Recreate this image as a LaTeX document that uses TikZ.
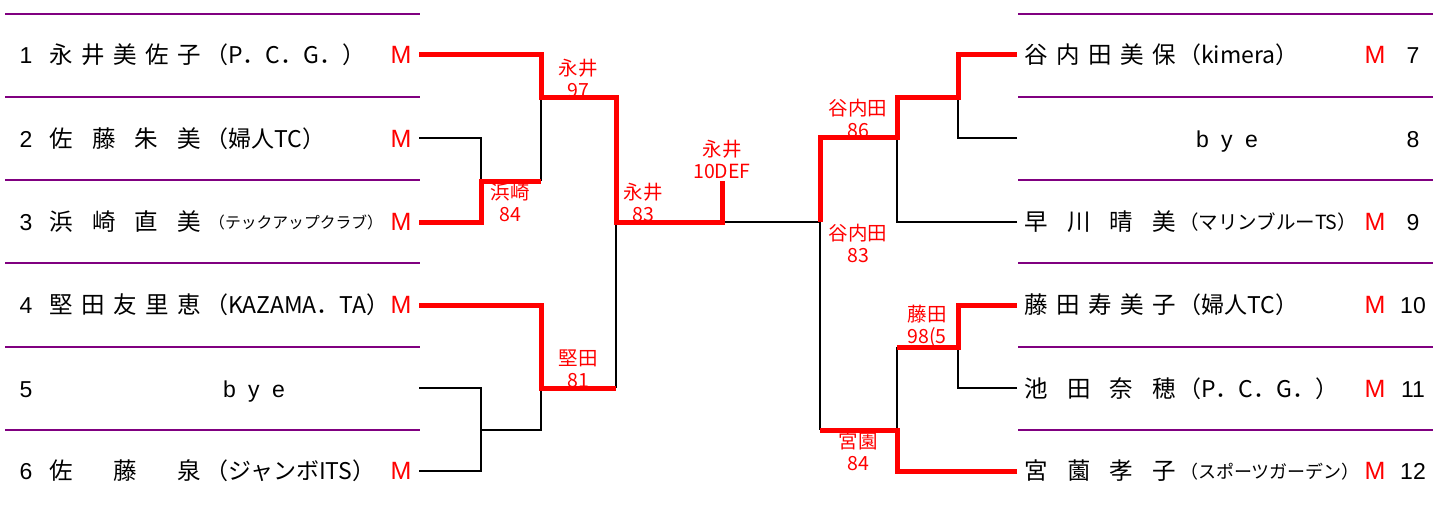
\documentclass[tikz,border=0pt]{standalone}
\usepackage{fontspec}
\setmainfont{Noto Sans CJK JP}
\newfontfamily\latf{Liberation Sans}
\definecolor{purp}{RGB}{128,0,128}
\newcommand\distname[1]{\makebox[152pt][s]{#1}}
\begin{document}
\begin{tikzpicture}[x=1pt,y=-1pt,
  purpline/.style={draw=purp,line width=2.7pt},
  blk/.style={draw=black,line width=2.4pt},
  rd/.style={draw=red,line width=5pt,line join=miter},
  num/.style={font=\latf\fontsize{23}{23}\selectfont,anchor=base,inner sep=0pt},
  mk/.style={font=\latf\fontsize{25}{25}\selectfont,anchor=base,inner sep=0pt,text=red},
  nm/.style={font=\fontsize{23.5}{23.5}\selectfont,anchor=base west,inner sep=0pt},
  aff/.style={font=\fontsize{23}{23}\selectfont,anchor=base west,inner sep=0pt},
  affs/.style={font=\fontsize{#1}{#1}\selectfont,anchor=base west,inner sep=0pt},
  byetxt/.style={font=\latf\fontsize{23}{23}\selectfont,anchor=base,inner sep=0pt},
  lbl/.style={text=red,font=\fontsize{19.5}{22}\selectfont,align=center,inner sep=0pt}]
\useasboundingbox (0,0) rectangle (1445,508);
\fill[white] (0,0) rectangle (1445,508);
% purple separators
\foreach \yy in {14,97,180,263,347,430}{
  \draw[purpline] (5,\yy) -- (420,\yy);
  \draw[purpline] (1018,\yy) -- (1433,\yy);
}
% left entries
\node[num] (n1) at (26,63.5) {1};
\node[num] (n2) at (26,147.5) {2};
\node[num] (n3) at (26,230.5) {3};
\node[num] (n4) at (26,313.5) {4};
\node[num] (n5) at (26,397) {5};
\node[num] (n6) at (26,479.5) {6};
\node[nm] (p1) at (49,63.5) {\distname{永\hfill 井\hfill 美\hfill 佐\hfill 子}};
\node[nm] (p2) at (49,147.5) {\distname{佐\hfill 藤\hfill 朱\hfill 美}};
\node[nm] (p3) at (49,230.5) {\distname{浜\hfill 崎\hfill 直\hfill 美}};
\node[nm] (p4) at (49,313.5) {\distname{堅\hfill 田\hfill 友\hfill 里\hfill 恵}};
\node[byetxt] (p5) at (254,397) {\makebox[62pt][s]{b\hfill y\hfill e}};
\node[nm] (p6) at (49,479.5) {\distname{佐\hfill 藤\hfill 泉}};
\node[aff] (c1) at (205,63.5) {（P．C．G．）};
\node[aff] (c2) at (205,147.5) {（婦人TC）};
\node[affs=15.8] (c3) at (209,228.5) {（テックアップクラブ）};
\node[aff] (c4) at (205,313.5) {（KAZAMA．TA）};
\node[aff] (c6) at (205,479.5) {（ジャンボITS）};
\node[mk] (m1) at (401,63.5) {M};
\node[mk] (m2) at (401,147.5) {M};
\node[mk] (m3) at (401,230.5) {M};
\node[mk] (m4) at (401,313.5) {M};
\node[mk] (m6) at (401,479.5) {M};
% right entries
\node[nm] (p7) at (1024,63.5) {\distname{谷\hfill 内\hfill 田\hfill 美\hfill 保}};
\node[byetxt] (p8) at (1227,147.5) {\makebox[62pt][s]{b\hfill y\hfill e}};
\node[nm] (p9) at (1024,230.5) {\distname{早\hfill 川\hfill 晴\hfill 美}};
\node[nm] (p10) at (1024,313.5) {\distname{藤\hfill 田\hfill 寿\hfill 美\hfill 子}};
\node[nm] (p11) at (1024,397) {\distname{池\hfill 田\hfill 奈\hfill 穂}};
\node[nm] (p12) at (1024,479.5) {\distname{宮\hfill 薗\hfill 孝\hfill 子}};
\node[aff] (c7) at (1178,63.5) {（kimera）};
\node[affs=19.5] (c9) at (1179,229.5) {（マリンブルーTS）};
\node[aff] (c10) at (1178,313.5) {（婦人TC）};
\node[aff] (c11) at (1178,397) {（P．C．G．）};
\node[affs=18] (c12) at (1180,478.5) {（スポーツガーデン）};
\node[mk] (m7) at (1375,63.5) {M};
\node[mk] (m9) at (1375,230.5) {M};
\node[mk] (m10) at (1375,313.5) {M};
\node[mk] (m11) at (1375,397) {M};
\node[mk] (m12) at (1375,479.5) {M};
\node[num] (n7) at (1413,63.5) {7};
\node[num] (n8) at (1413,147.5) {8};
\node[num] (n9) at (1413,230.5) {9};
\node[num] (n10) at (1413,313.5) {10};
\node[num] (n11) at (1413,397) {11};
\node[num] (n12) at (1413,479.5) {12};
% score labels
\node[lbl] (s1) at (510,202) {浜崎\\84};
\node[lbl] (s2) at (578,78) {永井\\97};
\node[lbl] (s3) at (643,202) {永井\\83};
\node[lbl] (s4) at (578,369) {堅田\\81};
\node[lbl] (s5) at (722,159) {永井\\10DEF};
\node[lbl] (s6) at (858,118) {谷内田\\86};
\node[lbl] (s7) at (858,243) {谷内田\\83};
\node[lbl] (s8) at (927,326) {藤田\\98(5};
\node[lbl] (s9) at (858,451) {宮園\\84};
% bracket coordinates
\coordinate (L1) at (419,55);
\coordinate (L2) at (419,138);
\coordinate (L3) at (419,222);
\coordinate (L4) at (419,305);
\coordinate (L5) at (419,388);
\coordinate (L6) at (419,471);
\coordinate (R7) at (1017,55);
\coordinate (R8) at (1017,138);
\coordinate (R9) at (1017,222);
\coordinate (R10) at (1017,305);
\coordinate (R11) at (1017,388);
\coordinate (R12) at (1017,471);
\coordinate (a1) at (481,181);
\coordinate (a2) at (541,98);
\coordinate (a3) at (481,430);
\coordinate (a4) at (541,388);
\coordinate (a5) at (616,222);
\coordinate (F) at (722,222);
\coordinate (Ft) at (722,181);
\coordinate (b1) at (958,98);
\coordinate (b2) at (897,138);
\coordinate (b3) at (958,347);
\coordinate (b4) at (897,430);
\coordinate (b5) at (820,222);
% black lines
\draw[blk] (L2) -| (a1);
\draw[blk] (a2) -- (a1 -| a2);
\draw[blk] (L5) -| (a3);
\draw[blk] (L6) -| (a3);
\draw[blk] (a3) -| (a4);
\draw[blk] (a5) -- (a4 -| a5);
\draw[blk] (F) -- (b5);
\draw[blk] (R8) -| (b1);
\draw[blk] (R9) -| (b2);
\draw[blk] (R11) -| (b3);
\draw[blk] (b4) -- (b3 -| b4);
\draw[blk] (b5) -- (b4 -| b5);
% red lines
\draw[rd] (L3) -| (a1) -- (a1 -| a2);
\draw[rd] (L1) -| (a2) -| (a5) -- (F) -- (Ft);
\draw[rd] (L4) -| (a4) -- (a4 -| a5);
\draw[rd] (R7) -| (b1) -| (b2) -| (b5);
\draw[rd] (R10) -| (b3) -- (b3 -| b4);
\draw[rd] (R12) -| (b4) -- (b4 -| b5);
\end{tikzpicture}
\end{document}
